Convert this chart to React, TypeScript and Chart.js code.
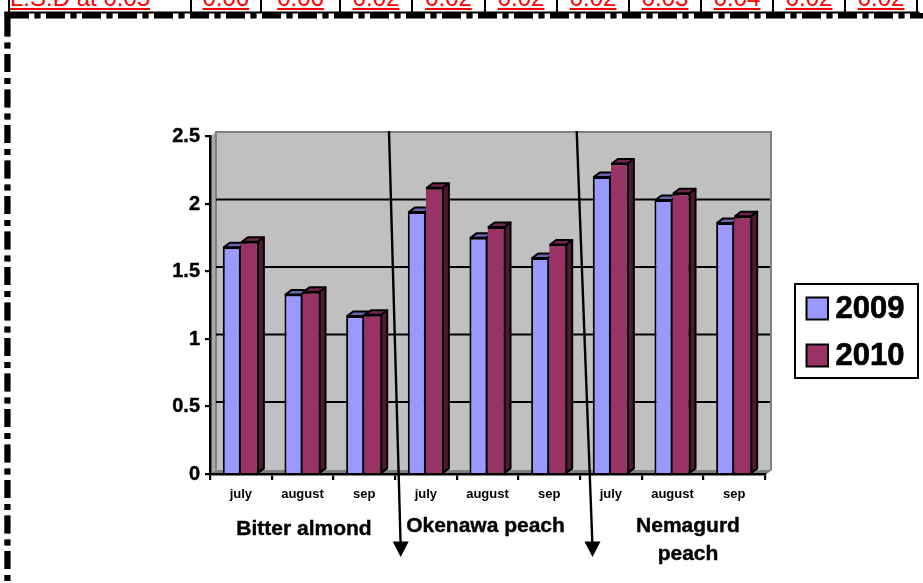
import React, { useEffect, useRef } from "react";
import { Chart, registerables } from "chart.js";

Chart.register(...registerables);

const months = ["july", "august", "sep", "july", "august", "sep", "july", "august", "sep"];
const values2009 = [1.68, 1.33, 1.17, 1.94, 1.75, 1.6, 2.2, 2.03, 1.86];
const values2010 = [1.72, 1.35, 1.18, 2.12, 1.83, 1.7, 2.3, 2.08, 1.91];
const groupNames = [["Bitter almond"], ["Okenawa peach"], ["Nemagurd", "peach"]];
const lsdHeader = "L.S.D at 0.05";
const lsdValues = ["0.06", "0.06", "0.02", "0.02", "0.02", "0.02", "0.03", "0.04", "0.02", "0.02"];

const FONT = "'Liberation Sans', Arial, sans-serif";
const DX = 6;
const DY = 4.5;
const LSD_LINES = [8.5, 190.7, 261, 340, 412, 485, 557, 629, 701, 773, 845, 917];
const GROUP_POS = [
  { mid: 1, dx: 1.5, y: 535 },
  { mid: 4, dx: -2, y: 531.5 },
  { mid: 7, dx: 15.5, y: 532 },
];
const FACES = [
  { top: "#6666AA", side: "#4D4D80" },
  { top: "#73264D", side: "#4D1933" },
];

function poly(ctx: CanvasRenderingContext2D, pts: number[][], fill: string, stroke?: string, lw = 2) {
  ctx.beginPath();
  pts.forEach((p, i) => (i ? ctx.lineTo(p[0], p[1]) : ctx.moveTo(p[0], p[1])));
  ctx.closePath();
  ctx.fillStyle = fill;
  ctx.fill();
  if (stroke) {
    ctx.strokeStyle = stroke;
    ctx.lineWidth = lw;
    ctx.lineJoin = "round";
    ctx.stroke();
  }
}

function dashed(ctx: CanvasRenderingContext2D, x0: number, y0: number, x1: number, y1: number, w: number, color: string, dash: number[]) {
  ctx.save();
  ctx.beginPath();
  ctx.setLineDash(dash);
  ctx.lineWidth = w;
  ctx.strokeStyle = color;
  ctx.moveTo(x0, y0);
  ctx.lineTo(x1, y1);
  ctx.stroke();
  ctx.restore();
}

const wallPlugin = {
  id: "wall3d",
  beforeDraw(chart: any) {
    const { ctx, chartArea: a, scales } = chart;
    ctx.save();
    poly(ctx, [[a.left, a.top], [a.left + DX, a.top - DY], [a.left + DX, a.bottom - DY], [a.left, a.bottom]], "#A8A8A8");
    poly(ctx, [[a.left, a.bottom], [a.left + DX, a.bottom - DY], [a.right + DX, a.bottom - DY], [a.right, a.bottom]], "#808080");
    ctx.fillStyle = "#C0C0C0";
    ctx.fillRect(a.left + DX, a.top - DY, a.right - a.left, a.bottom - a.top);
    ctx.strokeStyle = "#808080";
    ctx.lineWidth = 2;
    ctx.beginPath();
    ctx.moveTo(a.left + DX, a.bottom - DY);
    ctx.lineTo(a.left + DX, a.top - DY);
    ctx.lineTo(a.right + DX, a.top - DY);
    ctx.lineTo(a.right + DX, a.bottom - DY);
    ctx.lineTo(a.right, a.bottom);
    ctx.stroke();
    ctx.strokeStyle = "#000";
    ctx.lineWidth = 2;
    for (const t of scales.y.ticks) {
      if (t.value === 0 || t.value === 2.5) continue;
      const y = scales.y.getPixelForValue(t.value) - DY;
      ctx.beginPath();
      ctx.moveTo(a.left + DX, y);
      ctx.lineTo(a.right + DX - 1, y);
      ctx.stroke();
    }
    ctx.restore();
  },
  beforeDatasetsDraw(chart: any) {
    const { ctx } = chart;
    ctx.save();
    [0, 1].forEach((d) => {
      const face = FACES[d];
      chart.getDatasetMeta(d).data.forEach((bar: any) => {
        const p = bar.getProps(["x", "y", "base", "width"], true);
        const l = p.x - p.width / 2 + 1;
        const r = p.x + p.width / 2 - 1;
        poly(ctx, [[l, p.y], [l + DX, p.y - DY], [r + DX, p.y - DY], [r, p.y]], face.top, "#000");
        poly(ctx, [[r, p.y], [r + DX, p.y - DY], [r + DX, p.base - DY], [r, p.base]], face.side, "#000");
      });
    });
    ctx.restore();
  },
  afterDraw(chart: any) {
    const { ctx, scales } = chart;
    ctx.save();
    // dashed frame
    dashed(ctx, 10, 16.5, 923, 16.5, 5, "#808080", [19, 5.5, 6, 5.5]);
    dashed(ctx, 10, 15.5, 923, 15.5, 5, "#000", [19, 5.5, 6, 5.5]);
    ctx.fillStyle = "#000";
    ctx.fillRect(4.5, 11.5, 915, 2);
    dashed(ctx, 8, 18.5, 8, 583, 5.5, "#808080", [18, 6, 6, 5.5]);
    dashed(ctx, 7.3, 18.5, 7.3, 583, 6, "#000", [18, 6, 6, 5.5]);
    ctx.fillRect(4.3, 12, 6, 7);

    // arrows
    const arrows = [[389, 131, 400.7, 557], [576.7, 131, 592.5, 557]];
    for (const [x0, y0, x1, y1] of arrows) {
      ctx.strokeStyle = "#000";
      ctx.lineWidth = 2.4;
      ctx.beginPath();
      ctx.moveTo(x0, y0);
      ctx.lineTo(x1, y1 - 10);
      ctx.stroke();
      poly(ctx, [[x1 - 8, y1 - 15.5], [x1 + 8, y1 - 15.5], [x1, y1]], "#000");
    }

    // group names under the months
    ctx.fillStyle = "#000";
    ctx.strokeStyle = "#000";
    ctx.lineWidth = 0.4;
    ctx.textAlign = "center";
    ctx.textBaseline = "alphabetic";
    ctx.font = `bold 21px ${FONT}`;
    groupNames.forEach((lines, i) => {
      const g = GROUP_POS[i];
      const x = scales.x.getPixelForValue(g.mid) + g.dx;
      lines.forEach((t, j) => {
        ctx.fillText(t, x, g.y + j * 28);
        ctx.strokeText(t, x, g.y + j * 28);
      });
    });

    // legend
    ctx.fillStyle = "#fff";
    ctx.fillRect(795, 284, 123, 94);
    ctx.strokeStyle = "#000";
    ctx.lineWidth = 2;
    ctx.strokeRect(795, 284, 123, 94);
    ctx.textAlign = "left";
    ctx.textBaseline = "middle";
    ctx.font = `bold 31px ${FONT}`;
    chart.data.datasets.forEach((ds: any, i: number) => {
      const y = 297.5 + i * 47;
      ctx.fillStyle = ds.backgroundColor;
      ctx.fillRect(806.5, y, 21.5, 22);
      ctx.strokeStyle = "#000";
      ctx.lineWidth = 2;
      ctx.strokeRect(806.5, y, 21.5, 22);
      ctx.fillStyle = "#000";
      ctx.lineWidth = 0.7;
      ctx.fillText(ds.label, 835.5, y + 12);
      ctx.strokeText(ds.label, 835.5, y + 12);
    });
    ctx.restore();
  },
};

export default function App() {
  const ref = useRef<HTMLCanvasElement>(null);
  useEffect(() => {
    const chart = new Chart(ref.current as HTMLCanvasElement, {
      type: "bar",
      data: {
        labels: months,
        datasets: [
          { label: "2009", data: values2009, backgroundColor: "#9999FF", borderColor: "#000", borderWidth: { left: 2, right: 2, top: 2, bottom: 0 }, borderSkipped: false, categoryPercentage: 0.585, barPercentage: 1 },
          { label: "2010", data: values2010, backgroundColor: "#993366", borderColor: "#000", borderWidth: { left: 0, right: 2, top: 2, bottom: 0 }, borderSkipped: false, categoryPercentage: 0.585, barPercentage: 1 },
        ],
      },
      options: {
        responsive: false,
        animation: false,
        devicePixelRatio: 1,
        layout: { padding: { left: 0, right: 158, top: 136.5, bottom: 0 } },
        plugins: { legend: { display: false }, title: { display: false }, tooltip: { enabled: false } },
        scales: {
          x: {
            afterFit: (s: any) => { s.height = 109; },
            grid: { drawOnChartArea: false, color: "#000", lineWidth: 2.2, tickLength: 6, offset: true },
            border: { color: "#000", width: 2.5 },
            ticks: { color: "#000", font: { family: FONT, size: 13, weight: "bold" }, padding: 7, autoSkip: false, maxRotation: 0 },
          },
          y: {
            min: 0,
            max: 2.5,
            afterFit: (s: any) => { s.width = 210; },
            grid: { drawOnChartArea: false, color: "#000", lineWidth: 2.2, tickLength: 5 },
            border: { color: "#000", width: 2.5 },
            ticks: { stepSize: 0.5, color: "#000", textStrokeColor: "#000", textStrokeWidth: 0.4, font: { family: FONT, size: 20, weight: "bold" }, padding: 5, callback: (v: any) => String(v) },
          },
        },
      },
      plugins: [wallPlugin],
    } as any);
    return () => chart.destroy();
  }, []);

  const textStyle: React.CSSProperties = {
    position: "absolute",
    top: -14.5,
    height: 24,
    lineHeight: "24px",
    fontFamily: FONT,
    fontSize: 24,
    color: "#FF0000",
    textDecoration: "underline",
    whiteSpace: "nowrap",
  };

  return (
    <div style={{ position: "fixed", left: 0, top: 0, width: 923, height: 583, overflow: "hidden", background: "#fff" }}>
      {LSD_LINES.map((x) => (
        <div key={x} style={{ position: "absolute", left: x - 1, top: 0, width: 2, height: 12, background: "#000" }} />
      ))}
      <div style={{ ...textStyle, left: 10 }}>{lsdHeader}</div>
      {lsdValues.map((v, i) => (
        <div key={i} style={{ ...textStyle, left: LSD_LINES[i + 1], width: LSD_LINES[i + 2] - LSD_LINES[i + 1], textAlign: "center" }}>
          {v}
        </div>
      ))}
      <canvas ref={ref} width={923} height={583} style={{ position: "absolute", left: 0, top: 0, width: 923, height: 583 }} />
    </div>
  );
}
